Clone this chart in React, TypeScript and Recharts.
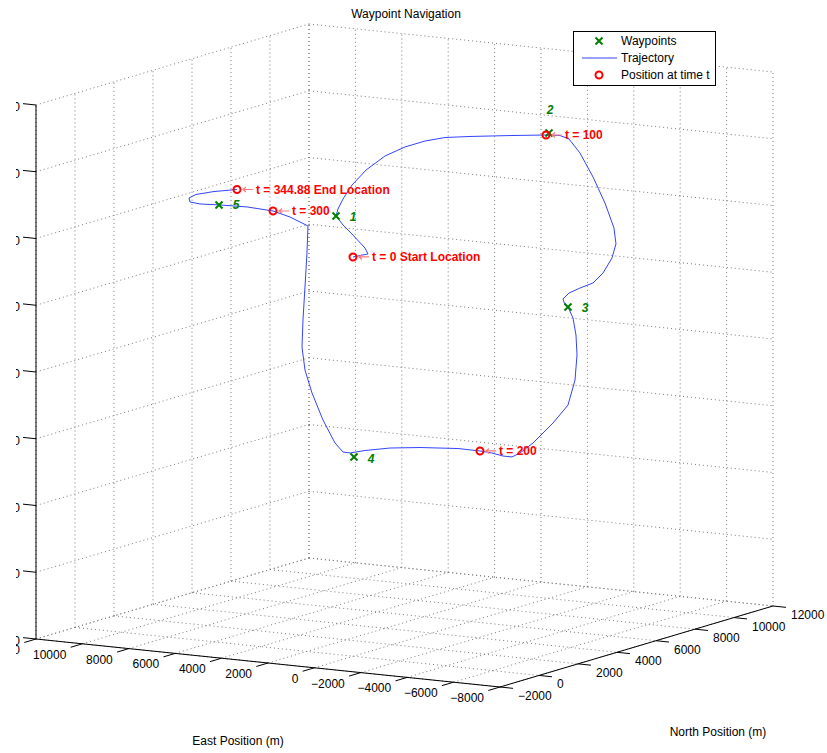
import {
  ComposedChart,
  Customized,
  Legend,
  Line,
  ReferenceLine,
  Scatter,
  XAxis,
  YAxis,
} from "recharts";

const W = 827;
const H = 753;
const FONT = '"Liberation Sans", Arial, Helvetica, sans-serif';

// axis limits (m)
const EAST_MAX = 12000;
const EAST_MIN = -8000;
const NORTH_MIN = -2000;
const NORTH_MAX = 12000;
const UP_MIN = 0;
const UP_MAX = 4000;

const eastTicks = [12000, 10000, 8000, 6000, 4000, 2000, 0, -2000, -4000, -6000, -8000];
const northTicks = [-2000, 0, 2000, 4000, 6000, 8000, 10000, 12000];
const upTicks = [0, 500, 1000, 1500, 2000, 2500, 3000, 3500, 4000];

// flown trajectory, t = 0 .. 344.88 s
const trajEast = [
  2960, 2312, 2442, 2960, 3390, 3692, 3606, 3390, 3002, 2398, 1580, 718, -144, -1006, -2084, -3808,
  -1578, -2182, -2568, -3044, -3604, -4120, -4508, -4594, -4422, -4034, -3604, -3044, -2568, -2310,
  -2396, -2568, -2742, -2870, -2914, -2828, -2526, -1880, -1018, -456, -112, 276, 750, 1268,
  -2828, -1190, 104, 1182, 1828, 2130, 2474, 2992, 3466, 3768, 3896, 3854, 3768, 3682, 3638, 4414,
  5146, 6268, 7432, 8294, 8724, 8768, 8466, 7690, 6698,
];
const trajNorth = [
  3500, 3500, 3500, 3500, 3500, 3500, 3500, 3500, 3500, 3500, 3500, 3500, 3500, 3500, 3500, 3500,
  8000, 8000, 8000, 8000, 8000, 8000, 8000, 8000, 8000, 8000, 8000, 8000, 8000, 8000,
  8000, 8000, 8000, 8000, 8000, 8000, 8000, 8000, 8000, 8000, 8000, 8000, 8000, 8000,
  2000, 2000, 2000, 2000, 2000, 2000, 2000, 2000, 2000, 2000, 2000, 2000, 2000, 2000, 2000, 2000,
  2000, 2000, 2000, 2000, 2000, 2000, 2000, 2000, 2000,
];
const trajUp = [
  2786, 2820, 2862, 2950, 3018, 3080, 3134, 3212, 3324, 3447, 3567, 3650, 3710, 3752, 3779, 3817,
  3586, 3593, 3574, 3477, 3308, 3122, 2942, 2824, 2716, 2596, 2514, 2466, 2420, 2371,
  2327, 2300, 2236, 2111, 1962, 1773, 1580, 1434, 1269, 1184, 1148, 1148, 1162, 1168,
  1520, 1498, 1471, 1433, 1403, 1405, 1466, 1629, 1823, 1990, 2160, 2363, 2611, 2868, 3071, 3124,
  3156, 3166, 3160, 3152, 3159, 3188, 3220, 3256, 3289,
];

// waypoints
const wpNames = ["1", "2", "3", "4", "5"];
const wpEast = [3692, -1706, -2526, 1656, 7474];
const wpNorth = [3500, 8000, 8000, 2000, 2000];
const wpUp = [3080, 3603, 2315, 1376, 3159];

// position markers at time t
const markLabels = ["t = 0 Start Location", "t = 100", "t = 200", "t = 300", "t = 344.88 End Location"];
const markEast = [2960, -1578, 1268, 5146, 6698];
const markNorth = [3500, 8000, 8000, 2000, 2000];
const markUp = [2786, 3586, 1168, 3156, 3289];

// orthographic view fitted to the reference (screen px per full axis span)
const VIEW = { ox: 36, oy: 639, ex: 464, ey: 48, nx: 273, ny: -81, uy: -534 };

function proj(east: number, north: number, up: number) {
  const fe = (EAST_MAX - east) / (EAST_MAX - EAST_MIN);
  const fn = (north - NORTH_MIN) / (NORTH_MAX - NORTH_MIN);
  const fu = (up - UP_MIN) / (UP_MAX - UP_MIN);
  return {
    x: VIEW.ox + fe * VIEW.ex + fn * VIEW.nx,
    y: VIEW.oy + fe * VIEW.ey + fn * VIEW.ny + fu * VIEW.uy,
  };
}

const fmt = (v: number) => (v < 0 ? "\u2212" + Math.abs(v) : String(v));

type Pt = { x: number; y: number };
type Seg = [Pt, Pt];

const gridSegs: Seg[] = [
  ...northTicks.map((n) => [proj(EAST_MAX, n, UP_MIN), proj(EAST_MAX, n, UP_MAX)] as Seg),
  ...upTicks.map((u) => [proj(EAST_MAX, NORTH_MIN, u), proj(EAST_MAX, NORTH_MAX, u)] as Seg),
  ...eastTicks.map((e) => [proj(e, NORTH_MAX, UP_MIN), proj(e, NORTH_MAX, UP_MAX)] as Seg),
  ...upTicks.map((u) => [proj(EAST_MAX, NORTH_MAX, u), proj(EAST_MIN, NORTH_MAX, u)] as Seg),
  ...eastTicks.map((e) => [proj(e, NORTH_MIN, UP_MIN), proj(e, NORTH_MAX, UP_MIN)] as Seg),
  ...northTicks.map((n) => [proj(EAST_MAX, n, UP_MIN), proj(EAST_MIN, n, UP_MIN)] as Seg),
];

const axisSegs: Seg[] = [
  [proj(EAST_MAX, NORTH_MIN, UP_MIN), proj(EAST_MAX, NORTH_MIN, UP_MAX)],
  [proj(EAST_MAX, NORTH_MIN, UP_MIN), proj(EAST_MIN, NORTH_MIN, UP_MIN)],
  [proj(EAST_MIN, NORTH_MIN, UP_MIN), proj(EAST_MIN, NORTH_MAX, UP_MIN)],
  ...eastTicks.map((e) => [proj(e, NORTH_MIN, UP_MIN), proj(e, NORTH_MIN - 600, UP_MIN)] as Seg),
  ...northTicks.map((n) => [proj(EAST_MIN, n, UP_MIN), proj(EAST_MIN - 560, n, UP_MIN)] as Seg),
  ...upTicks.map((u) => [proj(EAST_MAX, NORTH_MIN, u), proj(EAST_MAX + 560, NORTH_MIN, u)] as Seg),
];

const trajPts = trajEast.map((e, i) => proj(e, trajNorth[i], trajUp[i]));
const wpPts = wpEast.map((e, i) => ({ ...proj(e, wpNorth[i], wpUp[i]), label: wpNames[i] }));
const markPts = markEast.map((e, i) => ({ ...proj(e, markNorth[i], markUp[i]), label: markLabels[i] }));
const eastLabelPts = eastTicks.map((e) => ({ ...proj(e, NORTH_MIN, UP_MIN), label: fmt(e) }));
const northLabelPts = northTicks.map((n) => ({ ...proj(EAST_MIN, n, UP_MIN), label: fmt(n) }));
const upLabelPts = upTicks.map((u) => ({ ...proj(EAST_MAX, NORTH_MIN, u), label: fmt(u) }));

const WP_GREEN = "#008000";
const MARK_RED = "#ff0000";
const ARROW_RED = "#ff7a7a";
const TRAJ_BLUE = "#3344ff";

// label nudges for the waypoint numbers (px)
const WP_LABEL_DX = [17, 1, 17, 17, 17];
const WP_LABEL_DY = [1, -23, 1, 2, 0];

const tickText = { fontFamily: FONT, fontSize: 12, fill: "#000" };

const Cross = ({ cx, cy }: { cx: number; cy: number }) => (
  <path
    d={`M${cx - 3.5},${cy - 3.5}L${cx + 3.5},${cy + 3.5}M${cx - 3.5},${cy + 3.5}L${cx + 3.5},${cy - 3.5}`}
    stroke={WP_GREEN}
    strokeWidth={2}
    fill="none"
  />
);

const WaypointShape = (p: any) => {
  const i = wpNames.indexOf(p.payload.label);
  return (
    <g>
      <Cross cx={p.cx} cy={p.cy} />
      <text
        x={p.cx + WP_LABEL_DX[i]}
        y={p.cy + WP_LABEL_DY[i]}
        textAnchor="middle"
        dominantBaseline="central"
        fontFamily={FONT}
        fontSize={12}
        fontWeight="bold"
        fontStyle="italic"
        fill={WP_GREEN}
      >
        {p.payload.label}
      </text>
    </g>
  );
};

// circle, \leftarrow, then the time text
const MarkShape = (p: any) => {
  const { cx, cy } = p;
  return (
    <g>
      <path
        d={`M${cx + 6},${cy}L${cx + 16},${cy}M${cx + 9},${cy - 2.5}L${cx + 6},${cy}L${cx + 9},${cy + 2.5}`}
        stroke={ARROW_RED}
        strokeWidth={1.2}
        fill="none"
      />
      <circle cx={cx} cy={cy} r={3.5} stroke={MARK_RED} strokeWidth={2} fill="none" />
      <text
        x={cx + 19}
        y={cy}
        dominantBaseline="central"
        fontFamily={FONT}
        fontSize={12}
        fontWeight="bold"
        fill={MARK_RED}
      >
        {p.payload.label}
      </text>
    </g>
  );
};

const EastLabel = (p: any) => (
  <text x={p.cx - 16} y={p.cy + 11} textAnchor="end" dominantBaseline="central" clipPath="url(#figClip)" {...tickText}>
    {p.payload.label}
  </text>
);

const NorthLabel = (p: any) => (
  <text x={p.cx + 18} y={p.cy + 9} textAnchor="start" dominantBaseline="central" clipPath="url(#figClip)" {...tickText}>
    {p.payload.label}
  </text>
);

const UpLabel = (p: any) => (
  <text x={p.cx - 16} y={p.cy + 2} textAnchor="end" dominantBaseline="central" clipPath="url(#figClip)" {...tickText}>
    {p.payload.label}
  </text>
);

const Titles = () => (
  <g fontFamily={FONT} fontSize={12} fill="#000">
    <defs>
      <clipPath id="figClip">
        <rect x={16} y={0} width={W} height={H} />
      </clipPath>
    </defs>
    <text x={406} y={14} textAnchor="middle" dominantBaseline="central">
      Waypoint Navigation
    </text>
    <text x={238} y={741} textAnchor="middle" dominantBaseline="central">
      East Position (m)
    </text>
    <text x={718} y={732} textAnchor="middle" dominantBaseline="central">
      North Position (m)
    </text>
  </g>
);

const LegendBox = () => (
  <div style={{ width: 141, height: 53, border: "1px solid #000", background: "#fff" }}>
    <svg width={141} height={53} style={{ display: "block" }} fontFamily={FONT} fontSize={12}>
      <Cross cx={25} cy={9} />
      <text x={47} y={9} dominantBaseline="central">Waypoints</text>
      <line x1={8} x2={43} y1={26} y2={26} stroke={TRAJ_BLUE} strokeWidth={1} />
      <text x={47} y={26} dominantBaseline="central">Trajectory</text>
      <circle cx={25} cy={43} r={3.5} stroke={MARK_RED} strokeWidth={2} fill="none" />
      <text x={47} y={43} dominantBaseline="central">Position at time t</text>
    </svg>
  </div>
);

export default function App() {
  return (
    <div style={{ position: "absolute", left: 0, top: 0, background: "#fff" }}>
      <ComposedChart width={W} height={H} margin={{ top: 0, right: 0, bottom: 0, left: 0 }}>
        <XAxis type="number" dataKey="x" domain={[0, W]} allowDataOverflow hide />
        <YAxis type="number" dataKey="y" domain={[0, H]} reversed allowDataOverflow hide />
        <Customized component={Titles} />
        {gridSegs.map((s, i) => (
          <ReferenceLine
            key={`g${i}`}
            segment={s}
            stroke="#7a7a7a"
            strokeWidth={1}
            strokeDasharray="1 3"
            ifOverflow="visible"
          />
        ))}
        {axisSegs.map((s, i) => (
          <ReferenceLine key={`a${i}`} segment={s} stroke="#000" strokeWidth={1} ifOverflow="visible" />
        ))}
        <Scatter data={eastLabelPts} shape={EastLabel} legendType="none" isAnimationActive={false} />
        <Scatter data={northLabelPts} shape={NorthLabel} legendType="none" isAnimationActive={false} />
        <Scatter data={upLabelPts} shape={UpLabel} legendType="none" isAnimationActive={false} />
        <Scatter name="Waypoints" data={wpPts} shape={WaypointShape} isAnimationActive={false} />
        <Line
          name="Trajectory"
          data={trajPts}
          dataKey="y"
          type="linear"
          stroke={TRAJ_BLUE}
          strokeWidth={1}
          dot={false}
          activeDot={false}
          isAnimationActive={false}
        />
        <Scatter name="Position at time t" data={markPts} shape={MarkShape} isAnimationActive={false} />
        <Legend
          layout="horizontal"
          verticalAlign="middle"
          align="center"
          wrapperStyle={{ left: 573, top: 31, width: "auto", height: "auto" }}
          content={LegendBox}
        />
      </ComposedChart>
    </div>
  );
}
